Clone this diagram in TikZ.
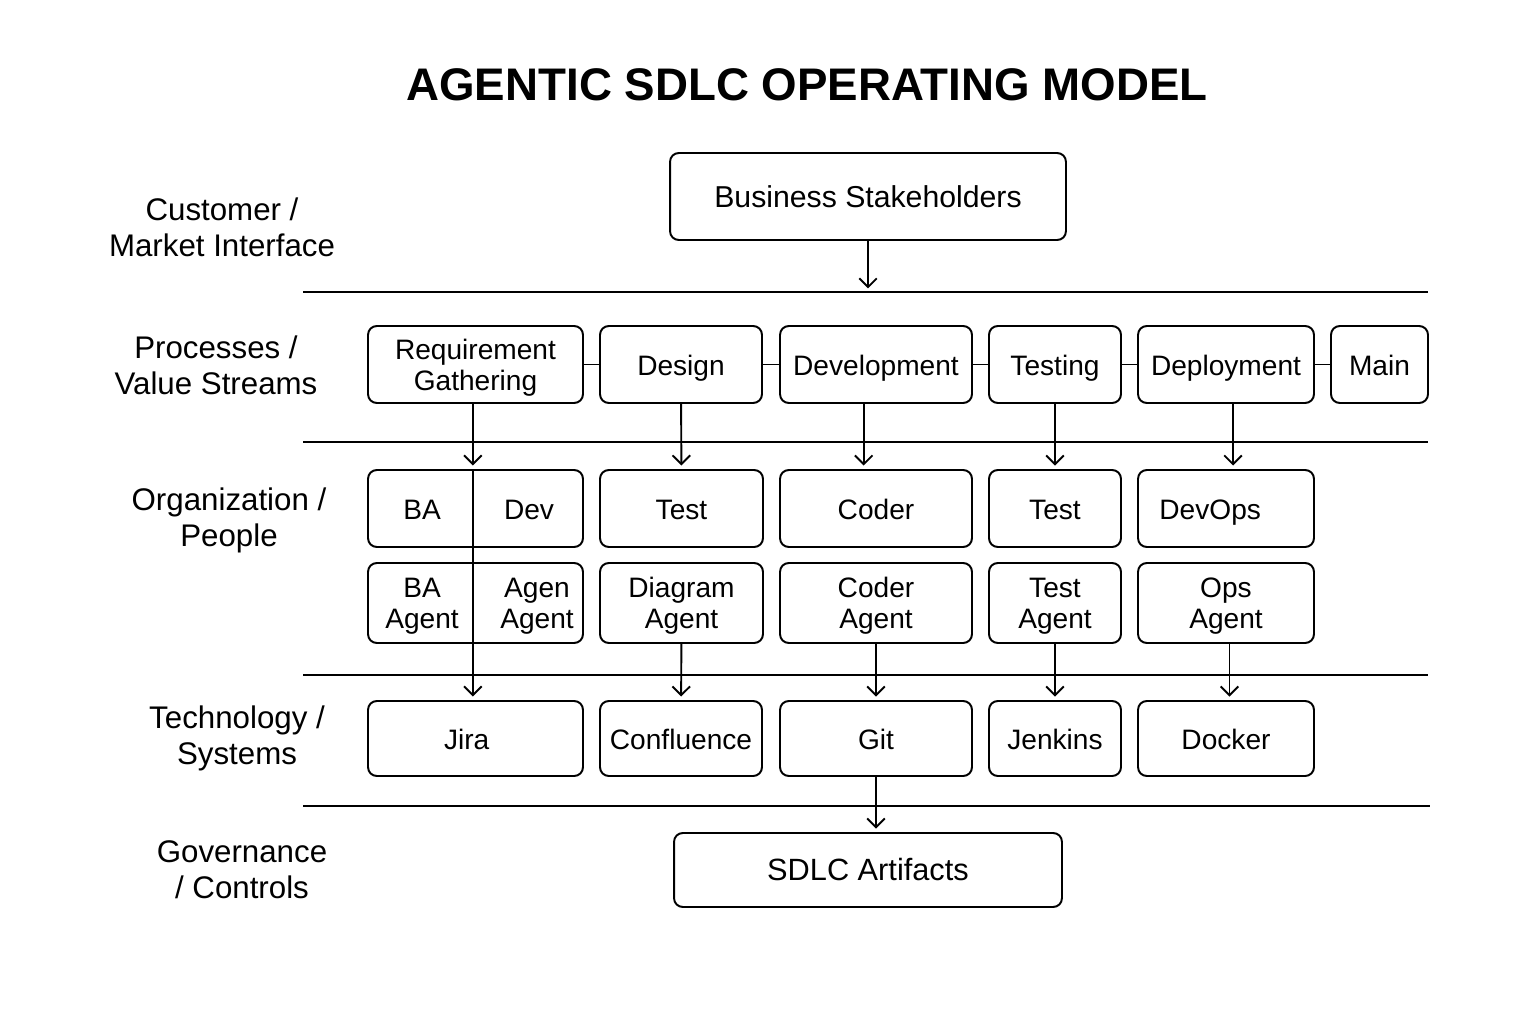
\documentclass[tikz,border=0pt]{standalone}
\usepackage{fontspec}
\setmainfont{Liberation Sans}
\usetikzlibrary{arrows.meta}

\begin{document}
\begin{tikzpicture}[x=0.02cm,y=-0.02cm,line width=1.1pt,>={Straight Barb[length=5pt,width=10pt]},
  box/.style={draw,rounded corners=5pt,inner sep=0pt,align=center,font=\fontsize{16}{17.6}\selectfont},
  one/.style={text height=13pt,text depth=1pt},
  two/.style={text depth=0pt},
  prow/.style={box,minimum height=1.54cm},
  agrow/.style={box,two,minimum height=1.6cm},
  tech/.style={box,one,minimum height=1.5cm},
  lbl/.style={align=center,font=\fontsize{17.8}{20.5}\selectfont},
  txt/.style={align=center,font=\fontsize{16}{17.6}\selectfont},
  flow/.style={->,shorten >=2pt}]
  \useasboundingbox (0,0) rectangle (1536,1024);

  % title
  \node[font=\fontsize{26}{30}\bfseries] (title) at (807,85) {AGENTIC SDLC OPERATING MODEL};

  % layer names
  \node[lbl] (l1) at (222,227) {Customer /\\Market Interface};
  \node[lbl] (l2) at (216,365) {Processes /\\Value Streams};
  \node[lbl] (l3) at (229,520) {Organization /\\People};
  \node[lbl] (l4) at (237,738) {Technology /\\Systems};
  \node[lbl] (l5) at (242,870) {Governance\\/ Controls};

  % layer lines
  \coordinate (s1) at (303,292); \coordinate (e1) at (1428,292);
  \coordinate (s2) at (303,442); \coordinate (e2) at (1428,442);
  \coordinate (s3) at (303,675); \coordinate (e3) at (1428,675);
  \coordinate (s4) at (303,806); \coordinate (e4) at (1430,806);
  \draw (s1) -- (e1);
  \draw (s2) -- (e2);
  \draw (s3) -- (e3);
  \draw (s4) -- (e4);

  \node[box,one,font=\fontsize{17.2}{20}\selectfont,minimum width=7.92cm,minimum height=1.74cm] (bs) at (868,196.5) {Business Stakeholders};
  \coordinate (bsin) at (868,292);
  \draw[flow] (bs) -- (bsin);

  % processes
  \node[prow,two,minimum width=4.3cm] (req) at (475.5,364.5) {Requirement\\Gathering};
  \node[prow,one,minimum width=3.24cm] (design) at (681,364.5) {Design};
  \node[prow,one,minimum width=3.84cm] (devt) at (876,364.5) {Development};
  \node[prow,one,minimum width=2.64cm] (testing) at (1055,364.5) {Testing};
  \node[prow,one,minimum width=3.52cm] (deploy) at (1226,364.5) {Deployment};
  \node[prow,one,minimum width=1.94cm] (main) at (1379.5,364.5) {Main};
  \draw (req) -- (design);
  \draw (design) -- (devt);
  \draw (devt) -- (testing);
  \draw (testing) -- (deploy);
  \draw (deploy) -- (main);

  % people
  \node[prow,minimum width=4.3cm] (badev) at (475.5,508.5) {};
  \node[txt,one] (ba) at (422,508.5) {BA};
  \node[txt,one] (dev) at (529,508.5) {Dev};
  \node[prow,one,minimum width=3.26cm] (test1) at (681.5,508.5) {Test};
  \node[prow,one,minimum width=3.84cm] (coder) at (876,508.5) {Coder};
  \node[prow,one,minimum width=2.64cm] (test2) at (1055,508.5) {Test};
  \node[prow,one,minimum width=3.52cm] (devops) at (1226,508.5) {\hspace{-18pt}DevOps};

  % agents
  \node[box,minimum height=1.6cm,minimum width=4.3cm] (agents) at (475.5,603) {};
  \node[txt,two] (baag) at (422,603) {BA\\Agent};
  \node[txt,two] (agen) at (537,603) {Agen\\Agent};
  \node[agrow,minimum width=3.26cm] (diag) at (681.5,603) {Diagram\\Agent};
  \node[agrow,minimum width=3.84cm] (codag) at (876,603) {Coder\\Agent};
  \node[agrow,minimum width=2.64cm] (testag) at (1055,603) {Test\\Agent};
  \node[agrow,minimum width=3.52cm] (opsag) at (1226,603) {Ops\\Agent};

  % systems
  \node[tech,minimum width=4.3cm] (jira) at (475.5,738.5) {\hspace{-10pt}Jira};
  \node[tech,minimum width=3.24cm] (conf) at (681,738.5) {Confluence};
  \node[tech,minimum width=3.84cm] (git) at (876,738.5) {Git};
  \node[tech,minimum width=2.64cm] (jenk) at (1055,738.5) {Jenkins};
  \node[tech,minimum width=3.52cm] (docker) at (1226,738.5) {Docker};

  \node[box,one,font=\fontsize{17.5}{20}\selectfont,minimum width=7.76cm,minimum height=1.48cm] (art) at (868,870) {SDLC Artifacts};

  % flows
  \draw[flow] ([xshift=-1.5]req.south) -- ([xshift=-1.5]badev.north);
  \draw[flow] ([xshift=-1.5]badev.north) -- ([xshift=-1.5]jira.north);
  \draw[flow] (design) -- (test1);
  \draw[flow] ([xshift=-7]devt.south) -- ([xshift=-7]coder.north);
  \draw[flow] (testing) -- (test2);
  \draw[flow] ([xshift=4]deploy.south) -- ([xshift=4]devops.north);
  \draw[flow] (diag) -- (conf);
  \draw[flow] (codag) -- (git);
  \draw[flow] (testag) -- (jenk);
  \draw[flow] ([xshift=2]opsag.south) -- ([xshift=2]docker.north);
  \draw[flow] (git) -- (git |- art.north);
\end{tikzpicture}
\end{document}
